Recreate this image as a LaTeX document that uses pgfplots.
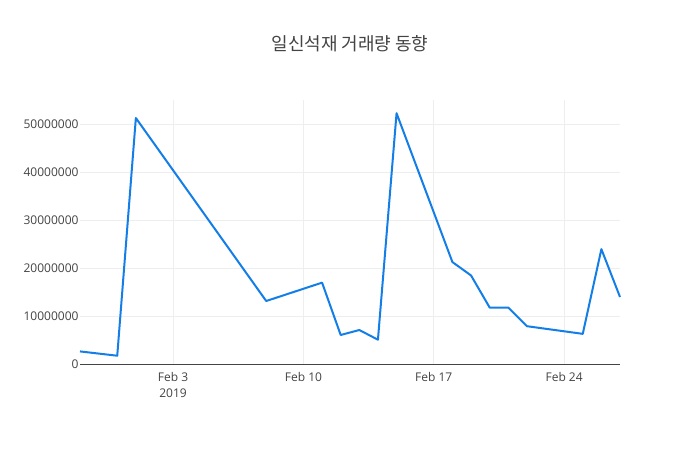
\documentclass[border=0pt]{standalone}
\usepackage{pgfplots}
\pgfplotsset{compat=1.18}
\usepackage{fontspec}
\setmainfont{Open Sans}
\newfontfamily\cjk{Noto Sans CJK KR}
\definecolor{txt}{HTML}{444444}
\definecolor{grd}{HTML}{EEEEEE}
\definecolor{line}{RGB}{20,126,232}
\begin{document}
\begin{tikzpicture}
\path[fill=white] (0pt,0pt) rectangle (700pt,450pt);
\node[text=txt,font={\cjk\fontsize{18}{22}\selectfont}] at (350pt,406pt) {일신석재 거래량 동향};
\begin{axis}[
  at={(80pt,86pt)}, anchor=south west,
  scale only axis, width=540pt, height=264pt,
  xmin=-5, xmax=24, ymin=0, ymax=55160000,
  xtick={0,7,14,21},
  xticklabels={{Feb 3\\2019},{Feb 10},{Feb 17},{Feb 24}},
  xticklabel style={align=center, text=txt, font=\fontsize{12}{16}\selectfont, yshift=-5pt},
  ytick={0,10000000,20000000,30000000,40000000,50000000},
  scaled y ticks=false,
  yticklabel style={text=txt, font=\fontsize{12}{14}\selectfont, xshift=2pt,
    /pgf/number format/fixed, /pgf/number format/precision=0,
    /pgf/number format/1000 sep={}, /pgf/number format/assume math mode=true},
  major tick length=0pt,
  grid=major, major grid style={grd, line width=0.8pt},
  axis line style={draw=none},
  axis x line*=bottom, axis y line*=left,
  clip=false,
]
\draw[txt, line width=1pt] (axis cs:-5,0) -- (axis cs:24,0);
\addplot[line, line width=2pt, mark=none, line join=round] coordinates {
(-5,2630000) (-3,1730000) (-2,51400000) (5,13160000) (8,17000000)
(9,6060000) (10,7100000) (11,5080000) (12,52400000) (15,21300000)
(16,18500000) (17,11800000) (18,11800000) (19,7900000) (22,6300000)
(23,24000000) (24,14000000)
};
\end{axis}
\end{tikzpicture}
\end{document}
